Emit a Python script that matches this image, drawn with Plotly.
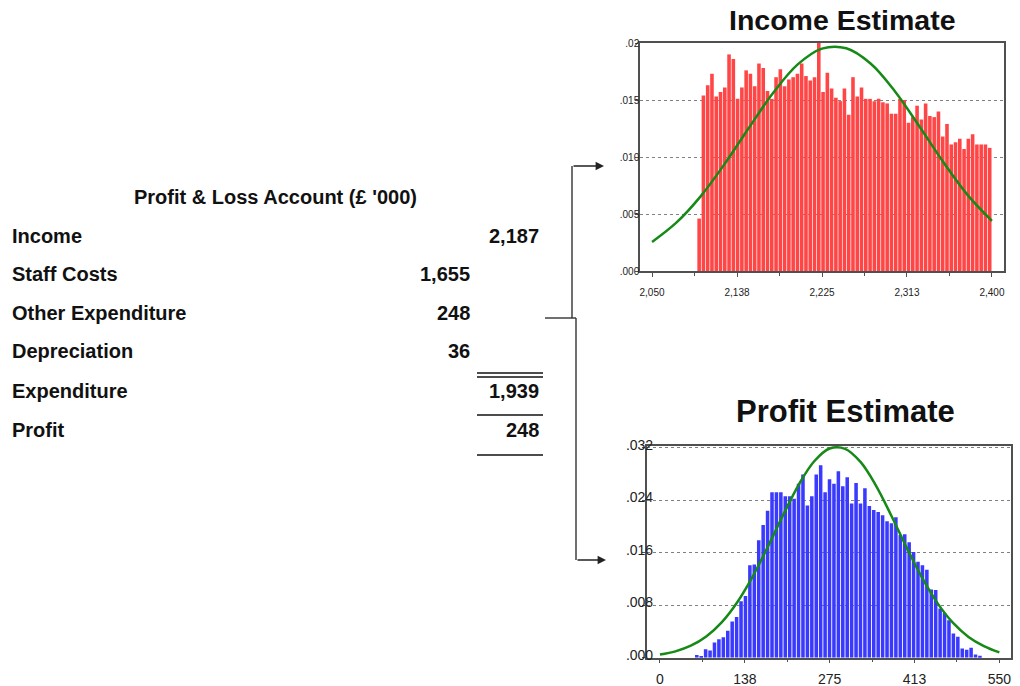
import plotly.graph_objects as go

W, H = 1020, 686

# ---- Profit & Loss account (£ '000) ----
pl_title = "Profit & Loss Account (£ '000)"
pl_labels = ["Income", "Staff Costs", "Other Expenditure", "Depreciation", "Expenditure", "Profit"]
pl_items = ["", "1,655", "248", "36", "", ""]
pl_totals = ["2,187", "", "", "", "1,939", "248"]

# ---- Income estimate: simulated distribution ----
income_bin_start = 2096.3
income_bin_width = 4.40
income_density = [
    0.0046, 0.0154, 0.0163, 0.0173, 0.0153, 0.0157, 0.0161, 0.0190, 0.0186, 0.0151,
    0.0161, 0.0176, 0.0173, 0.0162, 0.0182, 0.0178, 0.0158, 0.0151, 0.0170, 0.0177,
    0.0162, 0.0168, 0.0170, 0.0173, 0.0182, 0.0171, 0.0167, 0.0170, 0.0200, 0.0157,
    0.0174, 0.0160, 0.0152, 0.0149, 0.0160, 0.0137, 0.0170, 0.0153, 0.0161, 0.0151,
    0.0151, 0.0149, 0.0151, 0.0148, 0.0147, 0.0138, 0.0138, 0.0151, 0.0150, 0.0130,
    0.0135, 0.0145, 0.0133, 0.0147, 0.0136, 0.0135, 0.0140, 0.0118, 0.0129, 0.0111,
    0.0113, 0.0116, 0.0107, 0.0116, 0.0120, 0.0111, 0.0111, 0.0111, 0.0108,
]
income_curve_x = [2050, 2075, 2100, 2125, 2150, 2175, 2200, 2225, 2250, 2275, 2300, 2325, 2350, 2375, 2400]
income_curve_y = [0.00255, 0.00424, 0.00655, 0.00942, 0.01259, 0.01566, 0.01812, 0.01951,
                  0.01954, 0.01820, 0.01577, 0.01272, 0.00954, 0.00666, 0.00440]
income_xticks = [2050, 2137.5, 2225, 2312.5, 2400]
income_xtick_text = ["2,050", "2,138", "2,225", "2,313", "2,400"]
income_yticks = [0, 0.005, 0.010, 0.015, 0.020]
income_ytick_text = [".000", ".005", ".010", ".015", ".02"]

# ---- Profit estimate: simulated distribution ----
profit_bin_start = 56.1
profit_bin_width = 7.17
profit_density = [
    0.0004, 0.0002, 0.0013, 0.0011, 0.0023, 0.0028, 0.0031, 0.0041, 0.0055, 0.0062,
    0.0086, 0.0094, 0.0141, 0.0142, 0.0179, 0.0202, 0.0224, 0.0252, 0.0252, 0.0252,
    0.0246, 0.0246, 0.0242, 0.0265, 0.0279, 0.0232, 0.0246, 0.0279, 0.0293, 0.0252,
    0.0272, 0.0265, 0.0284, 0.0261, 0.0275, 0.0235, 0.0266, 0.0235, 0.0258, 0.0231,
    0.0225, 0.0222, 0.0217, 0.0208, 0.0205, 0.0214, 0.0187, 0.0188, 0.0176, 0.0161,
    0.0146, 0.0141, 0.0134, 0.0104, 0.0103, 0.0075, 0.0068, 0.0057, 0.0037, 0.0032,
    0.0014, 0.0012, 0.0015, 0.0005, 0.0003,
]
profit_curve_x = [0, 25, 50, 75, 100, 125, 150, 175, 200, 225, 250, 275,
                  300, 325, 350, 375, 400, 425, 450, 475, 500, 525, 550]
profit_curve_y = [0.00048, 0.00097, 0.00183, 0.00324, 0.00539, 0.00842, 0.01232, 0.01693,
                  0.02182, 0.02638, 0.02993, 0.03187, 0.03182, 0.02982, 0.02622, 0.02163,
                  0.01673, 0.01215, 0.00828, 0.00529, 0.00317, 0.00178, 0.00080]
profit_xticks = [0, 137.5, 275, 412.5, 550]
profit_xtick_text = ["0", "138", "275", "413", "550"]
profit_yticks = [0, 0.008, 0.016, 0.024, 0.032]
profit_ytick_text = [".000", ".008", ".016", ".024", ".032"]

RED = "#ff4646"
BLUE = "#3a3aff"
GREEN = "#168a16"
FRAME = "#505050"
ARIAL = "Liberation Sans, Arial, sans-serif"


def centers(start, width, n):
    return [start + width * (i + 0.5) for i in range(n)]


fig = go.Figure()

fig.add_trace(go.Bar(
    x=centers(income_bin_start, income_bin_width, len(income_density)),
    y=income_density, width=income_bin_width * 0.84,
    marker=dict(color=RED, line=dict(width=0)),
    xaxis="x", yaxis="y", hoverinfo="skip",
))
fig.add_trace(go.Scatter(
    x=income_curve_x, y=income_curve_y, mode="lines", line_shape="spline",
    line=dict(color=GREEN, width=2.5), xaxis="x", yaxis="y", hoverinfo="skip",
))
fig.add_trace(go.Bar(
    x=centers(profit_bin_start, profit_bin_width, len(profit_density)),
    y=profit_density, width=profit_bin_width * 0.8,
    marker=dict(color=BLUE, line=dict(width=0)),
    xaxis="x2", yaxis="y2", hoverinfo="skip",
))
fig.add_trace(go.Scatter(
    x=profit_curve_x, y=profit_curve_y, mode="lines", line_shape="spline",
    line=dict(color=GREEN, width=2.5), xaxis="x2", yaxis="y2", hoverinfo="skip",
))


def px_x(p):
    return p / W


def px_y(p):
    return 1 - p / H


axis_common = dict(showline=True, mirror=True, linecolor=FRAME, linewidth=1.5,
                   zeroline=False, ticks="outside", tickcolor=FRAME, automargin=False)

fig.update_layout(
    template="none",
    width=W, height=H, margin=dict(l=0, r=0, t=0, b=0, pad=0, autoexpand=False),
    paper_bgcolor="white", plot_bgcolor="white", showlegend=False,
    xaxis=dict(
        **axis_common, domain=[px_x(640), px_x(1004)], range=[2037.6, 2412.4],
        tickvals=income_xticks, ticktext=income_xtick_text, ticklen=4,
        tickfont=dict(family=ARIAL, size=10, color="#222"), showgrid=False,
        ticklabelstandoff=7, anchor="y",
        minor=dict(ticks="outside", ticklen=3, tick0=2050, dtick=43.75, tickcolor=FRAME),
    ),
    yaxis=dict(
        **axis_common, domain=[px_y(271), px_y(43)], range=[0, 0.02],
        tickvals=income_yticks, ticktext=income_ytick_text, ticklen=3,
        tickfont=dict(family=ARIAL, size=10, color="#222"),
        showgrid=True, gridcolor="#808080", griddash="dot", gridwidth=1,
        ticklabelstandoff=-6, anchor="x",
    ),
    xaxis2=dict(
        **axis_common, domain=[px_x(646.7), px_x(1010.7)], range=[-21.5, 568.4],
        tickvals=profit_xticks, ticktext=profit_xtick_text, ticklen=4,
        tickfont=dict(family=ARIAL, size=14, color="#222"), showgrid=False,
        ticklabelstandoff=4, anchor="y2",
        minor=dict(ticks="outside", ticklen=3, tick0=0, dtick=68.75, tickcolor=FRAME),
    ),
    yaxis2=dict(
        **axis_common, domain=[px_y(657.7), px_y(446)], range=[0, 0.03225],
        tickvals=profit_yticks, ticktext=profit_ytick_text, ticklen=3,
        tickfont=dict(family=ARIAL, size=14, color="#222"),
        showgrid=True, gridcolor="#808080", griddash="dot", gridwidth=1,
        ticklabelstandoff=-14, ticklabelshift=-3, anchor="x2",
    ),
)

annotations = [
    dict(text="<b>Income Estimate</b>", x=px_x(842), y=px_y(20),
         font=dict(family=ARIAL, size=28.5, color="#111")),
    dict(text="<b>Profit Estimate</b>", x=px_x(845), y=px_y(411),
         font=dict(family=ARIAL, size=31, color="#111")),
    dict(text="<b>" + pl_title + "</b>", x=px_x(275), y=px_y(197),
         font=dict(family=ARIAL, size=20, color="#111")),
]

row_y = [236, 274, 313, 351, 391, 430]
for label, item, total, yc in zip(pl_labels, pl_items, pl_totals, row_y):
    annotations.append(dict(text="<b>" + label + "</b>", x=px_x(10), y=px_y(yc), xanchor="left",
                            font=dict(family=ARIAL, size=20, color="#111")))
    if item:
        annotations.append(dict(text="<b>" + item + "</b>", x=px_x(472), y=px_y(yc), xanchor="right",
                                font=dict(family=ARIAL, size=20, color="#111")))
    if total:
        annotations.append(dict(text="<b>" + total + "</b>", x=px_x(541), y=px_y(yc), xanchor="right",
                                font=dict(family=ARIAL, size=20, color="#111")))

for a in annotations:
    a.setdefault("xanchor", "center")
    a.update(xref="paper", yref="paper", yanchor="middle", showarrow=False)

# arrows leading into the two histograms
for (x0, x1, yy) in [(572, 604, 166), (576, 606, 560)]:
    annotations.append(dict(
        x=px_x(x1), y=px_y(yy), xref="paper", yref="paper", text="",
        showarrow=True, ax=x0 - x1, ay=0, axref="pixel", ayref="pixel",
        arrowhead=2, arrowsize=1.2, arrowwidth=1.4, arrowcolor="#222",
    ))

fig.update_layout(annotations=annotations)

shapes = []


def hline(x0, x1, yy, color="#111", width=1.6):
    shapes.append(dict(type="line", xref="paper", yref="paper",
                       x0=px_x(x0), x1=px_x(x1), y0=px_y(yy), y1=px_y(yy),
                       line=dict(color=color, width=width)))


def vline(xx, y0, y1, color="#333", width=1.4):
    shapes.append(dict(type="line", xref="paper", yref="paper",
                       x0=px_x(xx), x1=px_x(xx), y0=px_y(y0), y1=px_y(y1),
                       line=dict(color=color, width=width)))


# rules under the account columns
hline(477, 543, 373)
hline(477, 543, 377)
hline(477, 543, 415)
hline(477, 543, 455)

# connector from the account to the two estimates
hline(545, 576, 318, color="#333", width=1.4)
vline(572, 166, 318)
vline(576, 318, 560)

fig.update_layout(shapes=shapes)

fig.write_html("out.html")
